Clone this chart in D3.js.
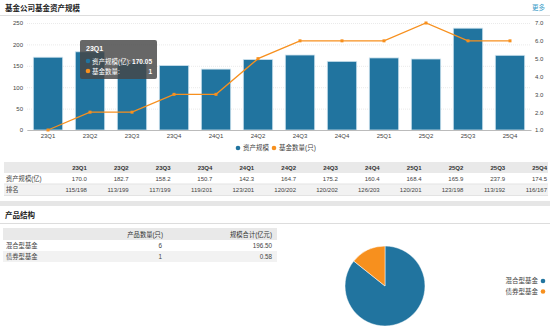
<!DOCTYPE html>
<html>
<head>
<meta charset="utf-8">
<script src="https://cdn.jsdelivr.net/npm/d3@7"></script>
<style>
body { margin: 0; background: #fff; }
svg text { font-family: "Liberation Sans", "Noto Sans CJK SC", sans-serif; }
</style>
</head>
<body>
<div id="main"></div>
<script>
// data
var quarters = ["23Q1","23Q2","23Q3","23Q4","24Q1","24Q2","24Q3","24Q4","25Q1","25Q2","25Q3","25Q4"];
var assets = [170.05,182.7,158.2,150.7,142.3,164.7,175.2,160.4,168.4,165.9,237.9,174.5];
var assetLabels = ["170.0","182.7","158.2","150.7","142.3","164.7","175.2","160.4","168.4","165.9","237.9","174.5"];
var fundCount = [1,2,2,3,3,5,6,6,6,7,6,6];
var ranks = ["115/198","113/199","117/199","119/201","123/201","120/202","120/202","126/203","120/201","123/198","113/192","116/167"];
var leftTicks = [0,50,100,150,200,250];
var rightTicks = [1,2,3,4,5,6,7];
var productTypes = ["混合型基金","债券型基金"];
var productCounts = [6,1];
var productScale = ["196.50","0.58"];

var w = 550, h = 330;
var blue = "#21749f", orange = "#f7901e", txt = "#444";

var svg = d3.select("#main").append("svg")
	.attr("width", w).attr("height", h);

// header
svg.append("text").attr("x", 5).attr("y", 11)
	.style("font-size", "7.5px").style("font-weight", "bold").attr("fill", "#222")
	.text("基金公司基金资产规模");
svg.append("text").attr("x", 545).attr("y", 10).attr("text-anchor", "end")
	.style("font-size", "6.5px").attr("fill", "#3a9cc9").text("更多");
svg.append("line").attr("x1", 0).attr("x2", w).attr("y1", 15.5).attr("y2", 15.5)
	.attr("stroke", "#ddd").attr("stroke-width", 1.2);

// scales
var x = d3.scaleBand().domain(quarters).range([27, 531]).paddingInner(0.3).paddingOuter(0.15);
var yL = d3.scaleLinear().domain([0, 250]).range([130, 23]);
var yR = d3.scaleLinear().domain([1, 7]).range([130, 23]);

// grid
svg.append("g").selectAll("line").data(leftTicks).enter().append("line")
	.attr("x1", 27).attr("x2", 531)
	.attr("y1", function(d) { return yL(d) + 0.5; })
	.attr("y2", function(d) { return yL(d) + 0.5; })
	.attr("stroke", "#eaeaea").attr("stroke-dasharray", "1,1");

// left axis
var axL = svg.append("g").attr("transform", "translate(27,0)")
	.call(d3.axisLeft(yL).tickValues(leftTicks).tickSize(0).tickPadding(4));
axL.select(".domain").remove();
axL.selectAll("text").style("font-size", "6px").attr("fill", txt);

// right axis
var axR = svg.append("g").attr("transform", "translate(531,0)")
	.call(d3.axisRight(yR).tickValues(rightTicks).tickSize(0).tickPadding(4));
axR.select(".domain").remove();
axR.selectAll("text").style("font-size", "6px").attr("fill", txt);

// bars
svg.append("g").selectAll("rect").data(assets).enter().append("rect")
	.attr("x", function(d, i) { return x(quarters[i]); })
	.attr("y", function(d) { return yL(d); })
	.attr("width", x.bandwidth())
	.attr("height", function(d) { return yL(0) - yL(d); })
	.attr("fill", blue).attr("stroke", "#cfe3ee").attr("stroke-width", 0.8);

// x axis
var axB = svg.append("g").attr("transform", "translate(0,130)")
	.call(d3.axisBottom(x).tickSize(0).tickPadding(4));
axB.select(".domain").attr("stroke", "#bbb");
axB.selectAll("text").style("font-size", "6px").attr("fill", txt);

// line
var line = d3.line()
	.x(function(d, i) { return x(quarters[i]) + x.bandwidth() / 2; })
	.y(function(d) { return yR(d); });
svg.append("path").datum(fundCount).attr("d", line)
	.attr("fill", "none").attr("stroke", orange).attr("stroke-width", 1.3);
svg.append("g").selectAll("rect").data(fundCount).enter().append("rect")
	.attr("x", function(d, i) { return x(quarters[i]) + x.bandwidth() / 2 - 1.5; })
	.attr("y", function(d) { return yR(d) - 1.5; })
	.attr("width", 3).attr("height", 3).attr("fill", orange);

// tooltip
var tip = svg.append("g").attr("transform", "translate(80,40)");
tip.append("rect").attr("width", 77).attr("height", 39).attr("rx", 2)
	.attr("fill", "rgba(70,70,70,0.82)");
tip.append("text").attr("x", 6).attr("y", 11).style("font-size", "7px")
	.style("font-weight", "bold").attr("fill", "#fff").text(quarters[0]);
tip.append("circle").attr("cx", 8).attr("cy", 21).attr("r", 2.3).attr("fill", blue);
tip.append("text").attr("x", 12).attr("y", 23.5).style("font-size", "6.5px").attr("fill", "#fff").text("资产规模(亿):");
tip.append("text").attr("x", 72).attr("y", 23.5).attr("text-anchor", "end").style("font-size", "6.5px")
	.style("font-weight", "bold").attr("fill", "#fff").text(assets[0].toFixed(2));
tip.append("circle").attr("cx", 8).attr("cy", 31).attr("r", 2.3).attr("fill", orange);
tip.append("text").attr("x", 12).attr("y", 33.5).style("font-size", "6.5px").attr("fill", "#fff").text("基金数量:");
tip.append("text").attr("x", 72).attr("y", 33.5).attr("text-anchor", "end").style("font-size", "6.5px")
	.style("font-weight", "bold").attr("fill", "#fff").text(fundCount[0]);

// legend
var lg = svg.append("g").attr("transform", "translate(0,148)").style("font-size", "6.5px");
lg.append("circle").attr("cx", 238).attr("cy", 0).attr("r", 2.3).attr("fill", blue);
lg.append("text").attr("x", 243).attr("y", 2.3).attr("fill", txt).text("资产规模");
lg.append("circle").attr("cx", 274).attr("cy", 0).attr("r", 2.3).attr("fill", orange);
lg.append("text").attr("x", 279).attr("y", 2.3).attr("fill", txt).text("基金数量(只)");

// data table
var colRight = d3.scaleBand().domain(quarters).range([47, 549]);
var tb = svg.append("g");
tb.append("rect").attr("x", 4).attr("y", 162).attr("width", 544).attr("height", 11).attr("fill", "#e9e9e9");
tb.append("rect").attr("x", 4).attr("y", 184).attr("width", 544).attr("height", 11).attr("fill", "#f2f2f2");
tb.append("line").attr("x1", 4).attr("x2", 548).attr("y1", 184).attr("y2", 184).attr("stroke", "#e3e3e3");
tb.append("line").attr("x1", 4).attr("x2", 548).attr("y1", 195.5).attr("y2", 195.5).attr("stroke", "#e3e3e3");
tb.selectAll(".hd").data(quarters).enter().append("text")
	.attr("x", function(d) { return colRight(d) + colRight.bandwidth() - 2; })
	.attr("y", 170).attr("text-anchor", "end").style("font-size", "6px").style("font-weight", "bold")
	.attr("fill", "#333").text(function(d) { return d; });
tb.selectAll(".v1").data(assetLabels).enter().append("text")
	.attr("x", function(d, i) { return colRight(quarters[i]) + colRight.bandwidth() - 2; })
	.attr("y", 181).attr("text-anchor", "end").style("font-size", "6px")
	.attr("fill", txt).text(function(d) { return d; });
tb.selectAll(".v2").data(ranks).enter().append("text")
	.attr("x", function(d, i) { return colRight(quarters[i]) + colRight.bandwidth() - 2; })
	.attr("y", 192).attr("text-anchor", "end").style("font-size", "6px")
	.attr("fill", txt).text(function(d) { return d; });
tb.append("text").attr("x", 6).attr("y", 181).style("font-size", "6.3px").attr("fill", txt).text("资产规模(亿)");
tb.append("text").attr("x", 6).attr("y", 192).style("font-size", "6.3px").attr("fill", txt).text("排名");

// section separator
svg.append("rect").attr("x", 0).attr("y", 201).attr("width", w).attr("height", 5).attr("fill", "#e6e6e6");
svg.append("text").attr("x", 5).attr("y", 218)
	.style("font-size", "7.5px").style("font-weight", "bold").attr("fill", "#222").text("产品结构");
svg.append("line").attr("x1", 0).attr("x2", w).attr("y1", 223.5).attr("y2", 223.5)
	.attr("stroke", "#ddd").attr("stroke-width", 1);

// product table
var pt = svg.append("g");
pt.append("rect").attr("x", 3).attr("y", 228).attr("width", 274).attr("height", 12).attr("fill", "#e9e9e9");
pt.append("rect").attr("x", 3).attr("y", 251).attr("width", 274).attr("height", 11).attr("fill", "#f2f2f2");
pt.append("text").attr("x", 163).attr("y", 236.5).attr("text-anchor", "end").style("font-size", "6.3px")
	.attr("fill", "#333").text("产品数量(只)");
pt.append("text").attr("x", 272).attr("y", 236.5).attr("text-anchor", "end").style("font-size", "6.3px")
	.attr("fill", "#333").text("规模合计(亿元)");
productTypes.forEach(function(t, i) {
	var yy = 247.5 + i * 11;
	pt.append("text").attr("x", 6).attr("y", yy).style("font-size", "6.3px").attr("fill", txt).text(t);
	pt.append("text").attr("x", 162).attr("y", yy).attr("text-anchor", "end").style("font-size", "6.3px").attr("fill", txt).text(productCounts[i]);
	pt.append("text").attr("x", 272).attr("y", yy).attr("text-anchor", "end").style("font-size", "6.3px").attr("fill", txt).text(productScale[i]);
});

// pie
var pie = d3.pie().sort(null);
var arc = d3.arc().innerRadius(0).outerRadius(40);
var pieColor = [blue, orange];
svg.append("g").attr("transform", "translate(385,286)")
	.selectAll("path").data(pie(productCounts)).enter().append("path")
	.attr("d", arc).attr("fill", function(d, i) { return pieColor[i]; })
	.attr("stroke", "#fff").attr("stroke-width", 0.5);

// pie legend
productTypes.forEach(function(t, i) {
	var yy = 281 + i * 10.5;
	svg.append("circle").attr("cx", 543).attr("cy", yy).attr("r", 2.3).attr("fill", pieColor[i]);
	svg.append("text").attr("x", 538).attr("y", yy + 2.3).attr("text-anchor", "end")
		.style("font-size", "6.5px").attr("fill", txt).text(t);
});
</script>
</body>
</html>
